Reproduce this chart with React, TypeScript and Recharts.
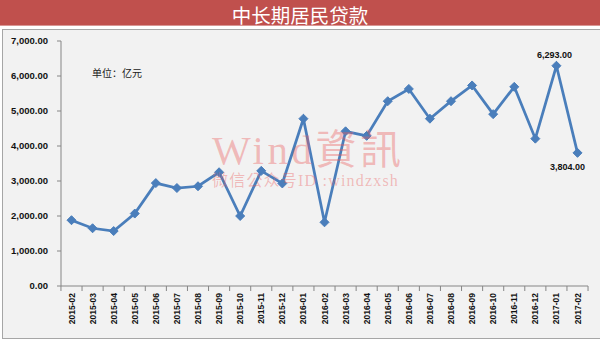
import React from 'react';
import { LineChart, Line, XAxis, YAxis, LabelList } from 'recharts';

const months = [
  '2015-02', '2015-03', '2015-04', '2015-05', '2015-06', '2015-07', '2015-08',
  '2015-09', '2015-10', '2015-11', '2015-12', '2016-01', '2016-02', '2016-03',
  '2016-04', '2016-05', '2016-06', '2016-07', '2016-08', '2016-09', '2016-10',
  '2016-11', '2016-12', '2017-01', '2017-02'
];
const loans = [
  1880, 1650, 1570, 2070, 2940, 2800, 2850, 3250, 2000, 3290, 2930, 4780, 1820,
  4420, 4290, 5280, 5630, 4780, 5280, 5730, 4910, 5690, 4210, 6293, 3804
];
const yTicks = [0, 1000, 2000, 3000, 4000, 5000, 6000, 7000];
const labelled = ['2017-01', '2017-02'];

const data = months.map((m, i) => ({ month: m, value: loans[i] }));

const BLUE = '#4A7EBB';
const AXIS = '#868686';
const HALF_STEP = 10.54;

const fmt = (v: number) =>
  v.toLocaleString('en-US', { minimumFractionDigits: 2, maximumFractionDigits: 2 });

const Diamond = (props: any) => {
  const { cx, cy } = props;
  if (cx == null || cy == null) return null;
  const r = 4.5;
  return (
    <path
      d={`M${cx},${cy - r} L${cx + r},${cy} L${cx},${cy + r} L${cx - r},${cy} Z`}
      fill={BLUE}
      stroke={BLUE}
      strokeWidth={1}
    />
  );
};

const MonthTick = (props: any) => {
  const { x, y, payload, index } = props;
  const last = index === months.length - 1;
  return (
    <g transform={`translate(${x},${y})`}>
      <line x1={-HALF_STEP} y1={0} x2={-HALF_STEP} y2={5} stroke={AXIS} />
      {last && <line x1={HALF_STEP} y1={0} x2={HALF_STEP} y2={5} stroke={AXIS} />}
      <text
        transform="rotate(-90)"
        x={-7}
        y={3}
        textAnchor="end"
        fontSize={8.5}
        fontWeight="bold"
        fontFamily="'Liberation Sans', Arial, sans-serif"
        fill="#111"
      >
        {payload.value}
      </text>
    </g>
  );
};

const PointLabel = (props: any) => {
  const { x, y, value, index } = props;
  const month = months[index];
  if (!labelled.includes(month)) return null;
  const above = month === '2017-01';
  return (
    <text
      x={above ? x - 2 : x - 10}
      y={above ? y - 8 : y + 17}
      textAnchor="middle"
      fontSize={9}
      fontWeight="bold"
      fontFamily="'Liberation Sans', Arial, sans-serif"
      fill="#111"
    >
      {fmt(value)}
    </text>
  );
};

export default function App() {
  return (
    <div
      style={{
        position: 'fixed',
        left: 0,
        top: 0,
        width: 600,
        height: 345,
        background: '#fff',
        overflow: 'hidden'
      }}
    >
      <div
        style={{
          position: 'absolute',
          left: 0,
          top: 0,
          width: 600,
          height: 25,
          background: '#C0504D',
          borderBottom: '1px solid #D99694'
        }}
      />
      <div
        style={{
          position: 'absolute',
          left: 0,
          top: 0,
          width: 600,
          color: '#fff',
          fontFamily: "'Noto Sans CJK SC', sans-serif",
          fontSize: 19.5,
          lineHeight: 'normal',
          textAlign: 'center'
        }}
      >
        中长期居民贷款
      </div>
      <div
        style={{
          position: 'absolute',
          left: 2,
          top: 29,
          width: 610,
          height: 308,
          background: '#F2F2F2',
          border: '1px solid #A6A6A6'
        }}
      />
      <div style={{ position: 'absolute', left: 0, top: 0 }}>
        <LineChart
          width={600}
          height={345}
          data={data}
          margin={{ top: 41, right: 12, bottom: 0, left: 0 }}
        >
          <XAxis
            dataKey="month"
            height={59}
            padding={{ left: 10.5, right: 10.5 }}
            stroke={AXIS}
            tickLine={false}
            tickSize={0}
            tickMargin={0}
            interval={0}
            tick={<MonthTick />}
          />
          <YAxis
            width={61}
            domain={[0, 7000]}
            ticks={yTicks}
            stroke={AXIS}
            tickSize={4}
            tickMargin={9}
            tickFormatter={fmt}
            tick={{
              fontSize: 9.5,
              fontWeight: 'bold',
              fill: '#111',
              fontFamily: "'Liberation Sans', Arial, sans-serif"
            }}
          />
          <Line
            dataKey="value"
            stroke={BLUE}
            strokeWidth={2.75}
            dot={<Diamond />}
            activeDot={false}
            isAnimationActive={false}
          >
            <LabelList dataKey="value" content={<PointLabel />} />
          </Line>
        </LineChart>
      </div>
      <div
        style={{
          position: 'absolute',
          left: 92,
          top: 65,
          fontSize: 10,
          fontFamily: "'Noto Sans CJK SC', sans-serif",
          color: '#222'
        }}
      >
        单位：亿元
      </div>
      <div
        style={{
          position: 'absolute',
          left: 212,
          top: 126,
          pointerEvents: 'none',
          color: 'rgba(235, 90, 90, 0.38)',
          fontFamily: "'Liberation Serif', 'Noto Sans CJK TC', serif",
          whiteSpace: 'nowrap'
        }}
      >
        <div style={{ fontSize: 41, lineHeight: '49px', letterSpacing: 3.5 }}>Wind資訊</div>
        <div style={{ fontSize: 16, lineHeight: '18px', letterSpacing: 1.2, marginTop: -3 }}>
          微信公众号ID :windzxsh
        </div>
      </div>
    </div>
  );
}
